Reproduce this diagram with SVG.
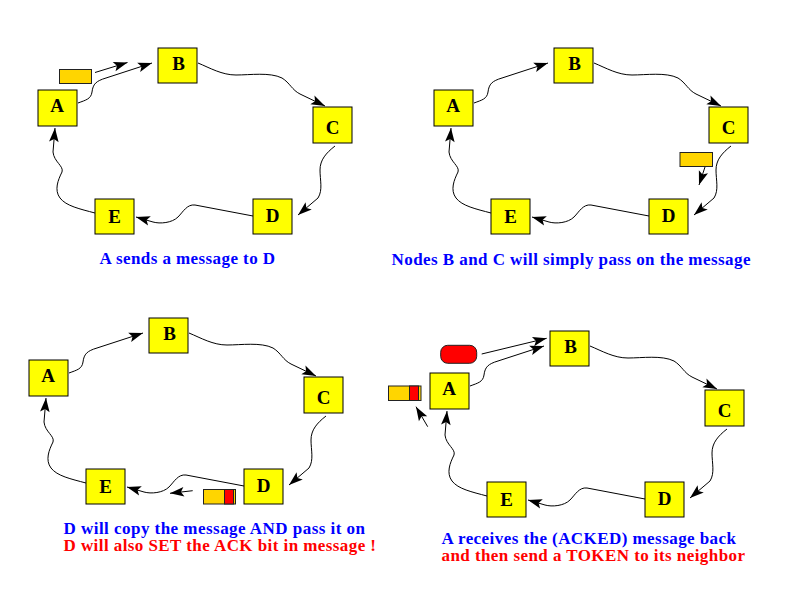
<svg xmlns="http://www.w3.org/2000/svg" width="792" height="612" viewBox="0 0 792 612">
<style>
.node rect{fill:#FFFF00;stroke:#000;stroke-width:1}
.node text{font-family:"Liberation Serif","Times New Roman",serif;font-weight:bold;font-size:19px;fill:#000;text-anchor:middle}
.conn path{fill:none;stroke:#000;stroke-width:1;marker-end:url(#ah)}
.msg{fill:#FFD500;stroke:#222;stroke-width:1}
.ack{fill:#FF0000;stroke:#222;stroke-width:1}
.cap{font-family:"Liberation Serif","Times New Roman",serif;font-weight:bold;font-size:17px}
.blue{fill:#0000FF}
.red{fill:#FF0000}
</style>
<defs>
<marker id="ah" markerUnits="userSpaceOnUse" markerWidth="18" markerHeight="12" viewBox="-16 -6 18 12" refX="0" refY="0" orient="auto">
<path d="M0,0 L-14,-4.8 L-11,0 L-14,4.8 Z" fill="#000"/>
</marker>
</defs>
<rect width="792" height="612" fill="#FFFFFF"/>

<!-- Panel 1 -->
<g id="panel1">
<g class="conn" id="p1-connectors">
<path d="M78,103 C86,100 91,99 92,92 C93,84 96,81 106,78 L152,63"/>
<path d="M198,63 C210,68 222,75 236,75 C250,75 270,72 282,78 C290,83 292,90 300,94 L325,106"/>
<path d="M335,146 C326,153 320,160 320,170 C320,180 323,190 318,198 L298,215"/>
<path d="M253,216 L195,205 C187,204 183,212 178,217 C172,223 160,224 153,222 L136,217"/>
<path d="M95,213 C80,209 66,206 60,198 C54,190 58,180 62,172 C64,166 54,162 53,152 L55,128"/>
<path d="M95,72.5 L127.5,62.5"/>
</g>
<g id="p1-A" class="node"><rect x="38" y="90" width="39" height="36"/><text x="57" y="111.5">A</text></g>
<g id="p1-B" class="node"><rect x="158" y="48" width="39" height="35"/><text x="178.5" y="69.5">B</text></g>
<g id="p1-C" class="node"><rect x="313" y="107" width="39" height="36"/><text x="332.5" y="134">C</text></g>
<g id="p1-D" class="node"><rect x="253" y="199" width="39" height="35"/><text x="272.5" y="221.5">D</text></g>
<g id="p1-E" class="node"><rect x="95" y="199" width="39" height="35"/><text x="114.5" y="222.5">E</text></g>
<rect id="p1-msg" class="msg" x="59.5" y="69.5" width="32" height="14"/>
<text class="cap blue" x="99.5" y="264" textLength="175.5" lengthAdjust="spacing">A sends a message to D</text>
</g>

<!-- Panel 2 -->
<g id="panel2">
<g class="conn" id="p2-connectors" transform="translate(396,0)">
<path d="M78,103 C86,100 91,99 92,92 C93,84 96,81 106,78 L152,63"/>
<path d="M198,63 C210,68 222,75 236,75 C250,75 270,72 282,78 C290,83 292,90 300,94 L325,106"/>
<path d="M335,146 C326,153 320,160 320,170 C320,180 323,190 318,198 L298,215"/>
<path d="M253,216 L195,205 C187,204 183,212 178,217 C172,223 160,224 153,222 L136,217"/>
<path d="M95,213 C80,209 66,206 60,198 C54,190 58,180 62,172 C64,166 54,162 53,152 L55,128"/>
<path d="M309,167 L303,185"/>
</g>
<g transform="translate(396,0)">
<g id="p2-A" class="node"><rect x="38" y="90" width="39" height="36"/><text x="57" y="111.5">A</text></g>
<g id="p2-B" class="node"><rect x="158" y="48" width="39" height="35"/><text x="178.5" y="69.5">B</text></g>
<g id="p2-C" class="node"><rect x="313" y="107" width="39" height="36"/><text x="332.5" y="134">C</text></g>
<g id="p2-D" class="node"><rect x="253" y="199" width="39" height="35"/><text x="272.5" y="221.5">D</text></g>
<g id="p2-E" class="node"><rect x="95" y="199" width="39" height="35"/><text x="114.5" y="222.5">E</text></g>
<rect id="p2-msg" class="msg" x="284" y="152.5" width="32.5" height="14"/>
</g>
<text class="cap blue" x="391.5" y="264.5" textLength="359" lengthAdjust="spacing">Nodes B and C will simply pass on the message</text>
</g>

<!-- Panel 3 -->
<g id="panel3">
<g class="conn" id="p3-connectors" transform="translate(-9,270)">
<path d="M78,103 C86,100 91,99 92,92 C93,84 96,81 106,78 L152,63"/>
<path d="M198,63 C210,68 222,75 236,75 C250,75 270,72 282,78 C290,83 292,90 300,94 L325,106"/>
<path d="M335,146 C326,153 320,160 320,170 C320,180 323,190 318,198 L298,215"/>
<path d="M253,216 L195,205 C187,204 183,212 178,217 C172,223 160,224 153,222 L136,217"/>
<path d="M95,213 C80,209 66,206 60,198 C54,190 58,180 62,172 C64,166 54,162 53,152 L55,128"/>
<path d="M201.7,220.7 L179,223.3"/>
</g>
<g transform="translate(-9,270)">
<g id="p3-A" class="node"><rect x="38" y="90" width="39" height="36"/><text x="57" y="111.5">A</text></g>
<g id="p3-B" class="node"><rect x="158" y="48" width="39" height="35"/><text x="178.5" y="69.5">B</text></g>
<g id="p3-C" class="node"><rect x="313" y="107" width="39" height="36"/><text x="332.5" y="134">C</text></g>
<g id="p3-D" class="node"><rect x="253" y="199" width="39" height="35"/><text x="272.5" y="221.5">D</text></g>
<g id="p3-E" class="node"><rect x="95" y="199" width="39" height="35"/><text x="114.5" y="222.5">E</text></g>
<g id="p3-msg"><rect class="msg" x="212.5" y="219.5" width="32" height="14.5"/><rect class="ack" x="233.5" y="219.5" width="9" height="14.5"/></g>
</g>
<text class="cap blue" x="63.5" y="533.5" textLength="301.5" lengthAdjust="spacing">D will copy the message AND pass it on</text>
<text class="cap red" x="63.5" y="551" textLength="312.5" lengthAdjust="spacing">D will also SET the ACK bit in message !</text>
</g>

<!-- Panel 4 -->
<g id="panel4">
<g class="conn" id="p4-connectors" transform="translate(392,283)">
<path d="M78,103 C86,100 91,99 92,92 C93,84 96,81 106,78 L152,63"/>
<path d="M198,63 C210,68 222,75 236,75 C250,75 270,72 282,78 C290,83 292,90 300,94 L325,106"/>
<path d="M335,146 C326,153 320,160 320,170 C320,180 323,190 318,198 L298,215"/>
<path d="M253,216 L195,205 C187,204 183,212 178,217 C172,223 160,224 153,222 L136,217"/>
<path d="M95,213 C80,209 66,206 60,198 C54,190 58,180 62,172 C64,166 54,162 53,152 L55,128"/>
<path d="M89.7,71 L154.7,55.3"/>
<path d="M35.7,143.7 L24,123.7"/>
</g>
<g transform="translate(392,283)">
<g id="p4-A" class="node"><rect x="38" y="90" width="39" height="36"/><text x="57" y="111.5">A</text></g>
<g id="p4-B" class="node"><rect x="158" y="48" width="39" height="35"/><text x="178.5" y="69.5">B</text></g>
<g id="p4-C" class="node"><rect x="313" y="107" width="39" height="36"/><text x="332.5" y="134">C</text></g>
<g id="p4-D" class="node"><rect x="253" y="199" width="39" height="35"/><text x="272.5" y="221.5">D</text></g>
<g id="p4-E" class="node"><rect x="95" y="199" width="39" height="35"/><text x="114.5" y="222.5">E</text></g>
<rect id="p4-token" class="ack" x="48.7" y="62.3" width="36" height="18" rx="7" ry="7"/>
<g id="p4-msg"><rect class="msg" x="-3.5" y="103" width="32.5" height="14.5"/><rect class="ack" x="17.5" y="103" width="9" height="14.5"/></g>
</g>
<text class="cap blue" x="441.5" y="543.5" textLength="294.5" lengthAdjust="spacing">A receives the (ACKED) message back</text>
<text class="cap red" x="441.5" y="561" textLength="303.5" lengthAdjust="spacing">and then send a TOKEN to its neighbor</text>
</g>
</svg>
